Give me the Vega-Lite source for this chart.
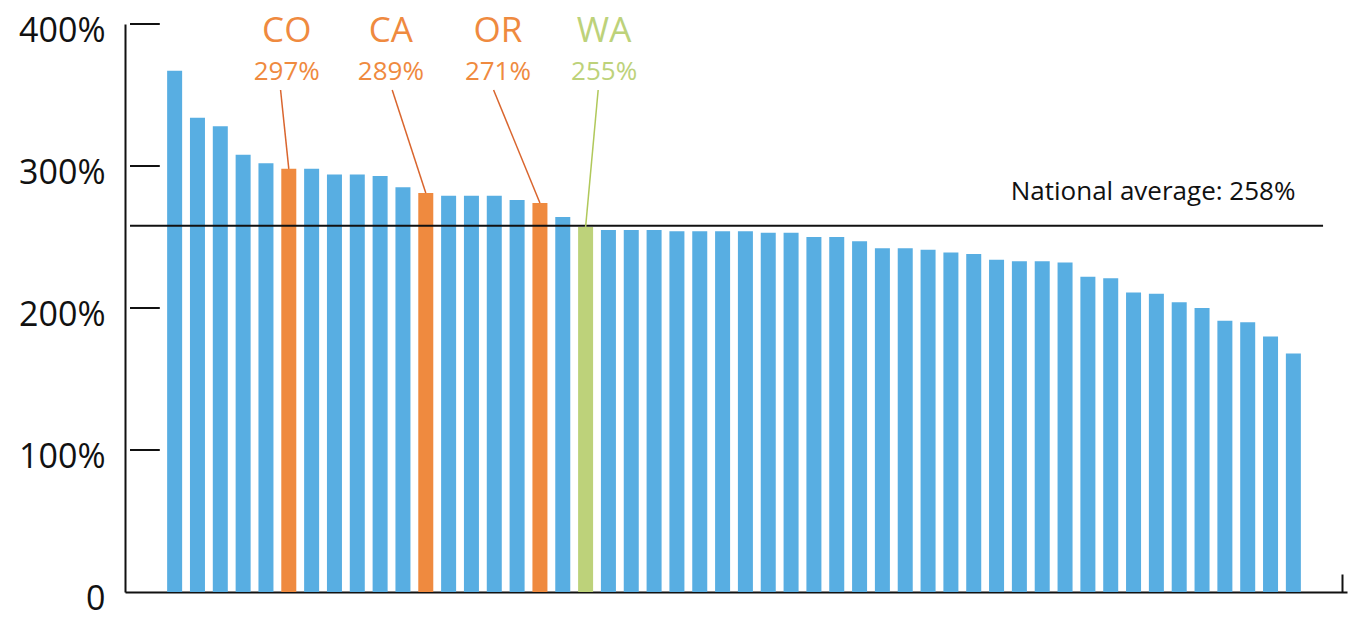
{
  "$schema": "https://vega.github.io/schema/vega-lite/v6.json",
  "autosize": {"type": "none"},
  "width": 1222,
  "height": 568,
  "padding": {"left": 125, "top": 24, "right": 6, "bottom": 26},
  "background": "white",
  "config": {"view": {"stroke": null}, "font": "Open Sans"},
  "datasets": {
    "bars": [
      {"i": 1, "v": 367, "g": "other"}, {"i": 2, "v": 334, "g": "other"}, {"i": 3, "v": 328, "g": "other"},
      {"i": 4, "v": 308, "g": "other"}, {"i": 5, "v": 302, "g": "other"}, {"i": 6, "v": 298, "g": "orange"},
      {"i": 7, "v": 298, "g": "other"}, {"i": 8, "v": 294, "g": "other"}, {"i": 9, "v": 294, "g": "other"},
      {"i": 10, "v": 293, "g": "other"}, {"i": 11, "v": 285, "g": "other"}, {"i": 12, "v": 281, "g": "orange"},
      {"i": 13, "v": 279, "g": "other"}, {"i": 14, "v": 279, "g": "other"}, {"i": 15, "v": 279, "g": "other"},
      {"i": 16, "v": 276, "g": "other"}, {"i": 17, "v": 274, "g": "orange"}, {"i": 18, "v": 264, "g": "other"},
      {"i": 19, "v": 257, "g": "green"}, {"i": 20, "v": 255, "g": "other"}, {"i": 21, "v": 255, "g": "other"},
      {"i": 22, "v": 255, "g": "other"}, {"i": 23, "v": 254, "g": "other"}, {"i": 24, "v": 254, "g": "other"},
      {"i": 25, "v": 254, "g": "other"}, {"i": 26, "v": 254, "g": "other"}, {"i": 27, "v": 253, "g": "other"},
      {"i": 28, "v": 253, "g": "other"}, {"i": 29, "v": 250, "g": "other"}, {"i": 30, "v": 250, "g": "other"},
      {"i": 31, "v": 247, "g": "other"}, {"i": 32, "v": 242, "g": "other"}, {"i": 33, "v": 242, "g": "other"},
      {"i": 34, "v": 241, "g": "other"}, {"i": 35, "v": 239, "g": "other"}, {"i": 36, "v": 238, "g": "other"},
      {"i": 37, "v": 234, "g": "other"}, {"i": 38, "v": 233, "g": "other"}, {"i": 39, "v": 233, "g": "other"},
      {"i": 40, "v": 232, "g": "other"}, {"i": 41, "v": 222, "g": "other"}, {"i": 42, "v": 221, "g": "other"},
      {"i": 43, "v": 211, "g": "other"}, {"i": 44, "v": 210, "g": "other"}, {"i": 45, "v": 204, "g": "other"},
      {"i": 46, "v": 200, "g": "other"}, {"i": 47, "v": 191, "g": "other"}, {"i": 48, "v": 190, "g": "other"},
      {"i": 49, "v": 180, "g": "other"}, {"i": 50, "v": 168, "g": "other"}
    ],
    "notes": [
      {"state": "CO", "pct": "297%", "lx": 5.91, "tx": 5.64, "ty": 353.5, "bx": 6, "by": 298, "g": "orange"},
      {"state": "CA", "pct": "289%", "lx": 10.47, "tx": 10.53, "ty": 353.5, "bx": 12, "by": 281, "g": "orange"},
      {"state": "OR", "pct": "271%", "lx": 15.16, "tx": 14.97, "ty": 353.5, "bx": 17, "by": 274, "g": "orange"},
      {"state": "WA", "pct": "255%", "lx": 19.81, "tx": 19.55, "ty": 353.5, "bx": 19, "by": 257, "g": "green"}
    ],
    "ticks": [
      {"t": 100, "x1": -0.955, "x2": 0.35},
      {"t": 200, "x1": -0.955, "x2": 0.35},
      {"t": 300, "x1": -0.955, "x2": 0.35},
      {"t": 400, "x1": -0.955, "x2": 0.35}
    ],
    "avg": [{"label": "National average: 258%", "v": 258, "x1": -0.955, "x2": 51.3, "lx": 37.62, "ly": 276}]
  },
  "layer": [
    {
      "data": {"name": "bars"},
      "mark": {"type": "bar", "width": 15},
      "encoding": {
        "x": {
          "field": "i", "type": "quantitative",
          "scale": {"domain": [-0.955, 52.13], "nice": false, "zero": false},
          "axis": {
            "title": null, "labels": false, "grid": false,
            "values": [52.13], "ticks": true, "tickSize": -18, "tickWidth": 2, "tickColor": "#111",
            "domainColor": "#111", "domainWidth": 2
          }
        },
        "y": {
          "field": "v", "type": "quantitative",
          "scale": {"domain": [0, 400], "nice": false},
          "axis": {
            "title": null, "grid": false, "values": [0, 100, 200, 300, 400],
            "labelExpr": "datum.value == 0 ? '0' : datum.value + '%'",
            "labelFontSize": 34, "labelColor": "#111", "labelFont": "Open Sans",
            "ticks": false, "labelPadding": 20,
            "labelOffset": 7, "domainColor": "#111", "domainWidth": 2
          }
        },
        "color": {
          "field": "g", "type": "nominal", "legend": null,
          "scale": {"domain": ["other", "orange", "green"], "range": ["#58aee2", "#ef8a3f", "#bdd27a"]}
        }
      }
    },
    {
      "data": {"name": "ticks"},
      "mark": {"type": "rule", "color": "#111", "strokeWidth": 2},
      "encoding": {
        "y": {"field": "t", "type": "quantitative"},
        "x": {"field": "x1", "type": "quantitative"},
        "x2": {"field": "x2"}
      }
    },
    {
      "data": {"name": "avg"},
      "mark": {"type": "rule", "color": "#111", "strokeWidth": 2},
      "encoding": {
        "y": {"field": "v", "type": "quantitative"},
        "x": {"field": "x1", "type": "quantitative"},
        "x2": {"field": "x2"}
      }
    },
    {
      "data": {"name": "avg"},
      "mark": {"type": "text", "align": "left", "baseline": "alphabetic", "fontSize": 26, "color": "#111", "font": "Open Sans"},
      "encoding": {
        "x": {"field": "lx", "type": "quantitative"},
        "y": {"field": "ly", "type": "quantitative"},
        "text": {"field": "label"}
      }
    },
    {
      "data": {"name": "notes"},
      "transform": [{"filter": "datum.g == 'orange'"}],
      "mark": {"type": "rule", "strokeWidth": 1.5, "color": "#d9652e"},
      "encoding": {
        "x": {"field": "tx", "type": "quantitative"},
        "y": {"field": "ty", "type": "quantitative"},
        "x2": {"field": "bx"},
        "y2": {"field": "by"}
      }
    },
    {
      "data": {"name": "notes"},
      "transform": [{"filter": "datum.g == 'green'"}],
      "mark": {"type": "rule", "strokeWidth": 1.5, "color": "#b0c85a"},
      "encoding": {
        "x": {"field": "tx", "type": "quantitative"},
        "y": {"field": "ty", "type": "quantitative"},
        "x2": {"field": "bx"},
        "y2": {"field": "by"}
      }
    },
    {
      "data": {"name": "notes"},
      "mark": {"type": "text", "align": "center", "baseline": "alphabetic", "fontSize": 35, "font": "Open Sans"},
      "encoding": {
        "x": {"field": "lx", "type": "quantitative"},
        "y": {"datum": 387},
        "text": {"field": "state"},
        "color": {"field": "g", "type": "nominal", "legend": null}
      }
    },
    {
      "data": {"name": "notes"},
      "mark": {"type": "text", "align": "center", "baseline": "alphabetic", "fontSize": 26, "font": "Open Sans"},
      "encoding": {
        "x": {"field": "lx", "type": "quantitative"},
        "y": {"datum": 360.6},
        "text": {"field": "pct"},
        "color": {"field": "g", "type": "nominal", "legend": null}
      }
    }
  ]
}
